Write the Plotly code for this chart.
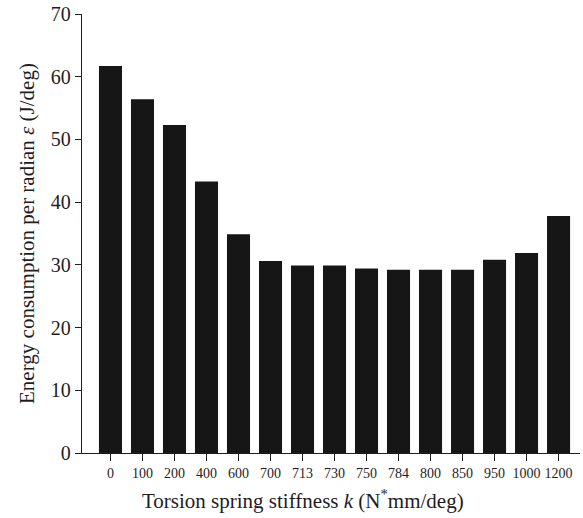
import plotly.graph_objects as go

# Torsion spring stiffness settings (N*mm/deg)
stiffness = ["0", "100", "200", "400", "600", "700", "713", "730", "750",
             "784", "800", "850", "950", "1000", "1200"]
# Energy consumption per radian (J/deg)
energy = [61.7, 56.4, 52.3, 43.3, 34.9, 30.6, 29.9, 29.9, 29.4,
          29.2, 29.2, 29.2, 30.8, 31.9, 37.8]
y_ticks = [0, 10, 20, 30, 40, 50, 60, 70]

SERIF = "Liberation Serif, Times New Roman, serif"
INK = "#1f1d1e"

fig = go.Figure(
    go.Bar(
        x=stiffness,
        y=energy,
        marker=dict(color="#161616", line=dict(width=0)),
        width=0.72,
    )
)

fig.update_layout(
    width=583,
    height=518,
    margin=dict(l=82, r=3, t=14, b=65),
    paper_bgcolor="white",
    plot_bgcolor="white",
    showlegend=False,
    font=dict(family=SERIF, color=INK),
    annotations=[
        dict(
            text="Torsion spring stiffness <i>k</i> (N<sup>*</sup>mm/deg)",
            xref="paper", yref="paper",
            x=0.444, y=-0.107,
            xanchor="center", yanchor="middle",
            showarrow=False,
            font=dict(size=21, family=SERIF, color=INK),
        )
    ],
)

fig.update_xaxes(
    type="category",
    range=[-0.89, 14.67],
    showline=True,
    linecolor=INK,
    linewidth=1.3,
    ticks="outside",
    ticklen=7,
    tickwidth=1,
    tickcolor=INK,
    tickfont=dict(size=14, family=SERIF),
    showgrid=False,
    zeroline=False,
)

fig.update_yaxes(
    range=[0, 70],
    tickvals=y_ticks,
    showline=True,
    linecolor=INK,
    linewidth=1.3,
    ticks="outside",
    ticklen=6,
    tickwidth=1,
    tickcolor=INK,
    tickfont=dict(size=20, family=SERIF),
    showgrid=False,
    zeroline=False,
    title=dict(
        text="Energy consumption per radian <i>ε</i> (J/deg)",
        font=dict(size=21, family=SERIF),
        standoff=10,
    ),
)

fig.write_html("out.html")
